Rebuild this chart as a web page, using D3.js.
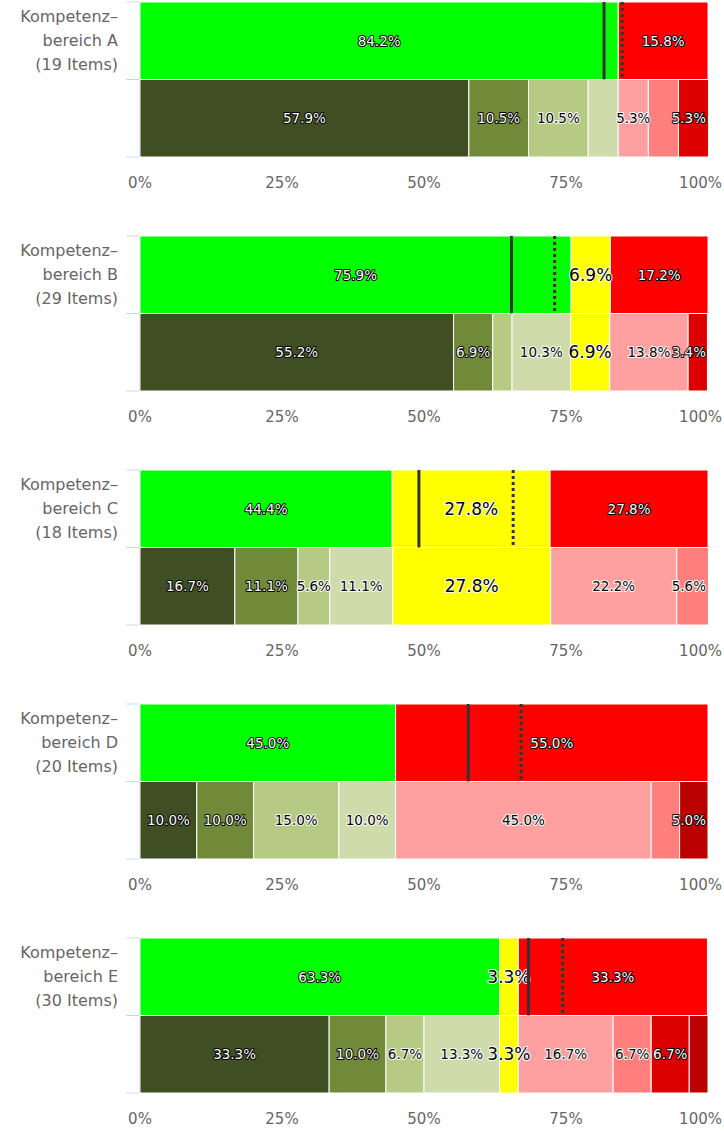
<!DOCTYPE html>
<html>
<head>
<meta charset="utf-8">
<script src="https://cdn.jsdelivr.net/npm/d3@7"></script>
<style>
  body { margin: 0; background: #fff; }
  svg { display: block; }
</style>
</head>
<body>
<div id="chart"></div>
<script>
// Kompetenzbereiche
const areas = ['A', 'B', 'C', 'D', 'E'];
const itemCounts = [19, 29, 18, 20, 30];

// Summary bar (upper bar): green / yellow / red share in %
const sumGreen  = [84.2, 75.9, 44.4, 45.0, 63.3];
const sumYellow = [0, 6.9, 27.8, 0, 3.3];
const sumRed    = [15.8, 17.2, 27.8, 55.0, 33.3];

// Detail bar (lower bar), nine levels from dark green to dark red
const lvl1 = [57.9, 55.2, 16.7, 10.0, 33.3];
const lvl2 = [10.5, 6.9, 11.1, 10.0, 10.0];
const lvl3 = [10.5, 3.4, 5.6, 15.0, 6.7];
const lvl4 = [5.3, 10.3, 11.1, 10.0, 13.3];
const lvl5 = [0, 6.9, 27.8, 0, 3.3];
const lvl6 = [5.3, 13.8, 22.2, 45.0, 16.7];
const lvl7 = [5.3, 0, 5.6, 5.0, 6.7];
const lvl8 = [5.3, 3.4, 0, 0, 6.7];
const lvl9 = [0, 0, 0, 5.0, 3.3];

// Reference lines on the summary bar (solid / dotted), in %
const solidMark  = [81.7, 65.4, 49.1, 57.8, 68.4];
const dottedMark = [84.9, 73.0, 65.7, 67.1, 74.4];

const xTicks = [0, 25, 50, 75, 100];

const SUM_COLORS = ['#00ff00', '#ffff00', '#ff0000'];
const DETAIL_COLORS = ['#404e23', '#718a3a', '#b5ca83', '#cfdbab', '#ffff00',
                       '#ffa0a0', '#ff7f7f', '#dd0000', '#bb0000'];
const YELLOW = '#ffff00';

const W = 724, H = 1131, PANEL_H = 234;

const svg = d3.select('#chart').append('svg')
    .attr('width', W)
    .attr('height', H)
    .style('font-family', '"DejaVu Sans", sans-serif');

const x = d3.scaleLinear().domain([0, 100]).range([140, 708]);
const y = d3.scaleBand().domain(['sum', 'detail']).range([2, 157]).padding(0);

function contrast(c) {
    const rgb = d3.rgb(c);
    return rgb.r + rgb.g + rgb.b > 1.8 * 255 ? '#000000' : '#ffffff';
}

function stackRow(values, colors) {
    let acc = 0;
    return values.map(function(v, i) {
        const seg = { v: v, x0: acc, x1: acc + v, color: colors[i] };
        acc += v;
        return seg;
    }).filter(function(s) { return s.v > 0; });
}

areas.forEach(function(area, i) {
    const g = svg.append('g').attr('transform', 'translate(0,' + (i * PANEL_H) + ')');

    const rows = [
        { key: 'sum', segs: stackRow([sumGreen[i], sumYellow[i], sumRed[i]], SUM_COLORS) },
        { key: 'detail', segs: stackRow([lvl1[i], lvl2[i], lvl3[i], lvl4[i], lvl5[i],
                                          lvl6[i], lvl7[i], lvl8[i], lvl9[i]], DETAIL_COLORS) }
    ];

    // category axis line + ticks
    g.append('line')
        .attr('x1', 139.5).attr('x2', 139.5)
        .attr('y1', y.range()[0]).attr('y2', y.range()[1])
        .attr('stroke', '#ccd6eb').attr('stroke-width', 1);
    [y.range()[0], y('detail'), y.range()[1]].forEach(function(ty) {
        g.append('line')
            .attr('x1', 126).attr('x2', 139.5)
            .attr('y1', ty).attr('y2', ty)
            .attr('stroke', '#ccd6eb').attr('stroke-width', 1);
    });

    // category label
    const cy = y('sum') + y.bandwidth() / 2;
    const lab = g.append('text')
        .attr('text-anchor', 'end')
        .attr('fill', '#666666')
        .style('font-size', '16px');
    ['Kompetenz\u2013', 'bereich ' + area, '(' + itemCounts[i] + ' Items)'].forEach(function(t, k) {
        lab.append('tspan').attr('x', 118).attr('y', cy - 19 + k * 24).text(t);
    });

    rows.forEach(function(row) {
        const by = y(row.key), bh = y.bandwidth();
        g.append('g').selectAll('rect').data(row.segs).join('rect')
            .attr('x', function(d) { return x(d.x0); })
            .attr('y', by)
            .attr('width', function(d) { return x(d.x1) - x(d.x0); })
            .attr('height', bh)
            .attr('fill', function(d) { return d.color; })
            .attr('stroke', '#ffffff')
            .attr('stroke-width', 1);

        const labels = g.append('g').selectAll('text').data(row.segs).join('text')
            .attr('x', function(d) { return (x(d.x0) + x(d.x1)) / 2; })
            .attr('y', by + bh / 2)
            .attr('dy', '0.36em')
            .attr('text-anchor', 'middle')
            .style('font-size', function(d) { return d.color === YELLOW ? '17px' : '13.5px'; })
            .attr('fill', function(d) { return contrast(d.color); })
            .attr('stroke', function(d) { return contrast(d.color) === '#000000' ? '#ffffff' : '#000000'; })
            .attr('stroke-width', 2)
            .attr('stroke-linejoin', 'round')
            .style('paint-order', 'stroke')
            .text(function(d) { return d.v.toFixed(1) + '%'; });

        // keep labels inside the plot, then hide overlapping ones
        // (bigger segments win, ties go to the right)
        const boxes = [];
        labels.each(function(d) {
            const w = this.getComputedTextLength();
            let cx = (x(d.x0) + x(d.x1)) / 2;
            if (cx + w / 2 > x.range()[1] - 2) cx = x.range()[1] - 2 - w / 2;
            d3.select(this).attr('x', cx);
            boxes.push({ node: this, l: cx - w / 2, r: cx + w / 2, rank: d.v, pos: d.x0 });
        });
        boxes.sort(function(a, b) { return (b.rank - a.rank) || (b.pos - a.pos); });
        const kept = [];
        boxes.forEach(function(b) {
            const hit = kept.some(function(k) { return b.l < k.r && b.r > k.l; });
            if (hit) d3.select(b.node).remove();
            else kept.push(b);
        });
    });

    // reference lines on the summary bar
    const y0 = y('sum'), y1 = y('sum') + y.bandwidth();
    g.append('line')
        .attr('x1', x(solidMark[i])).attr('x2', x(solidMark[i]))
        .attr('y1', y0).attr('y2', y1)
        .attr('stroke', '#333333').attr('stroke-width', 3);
    g.append('line')
        .attr('x1', x(dottedMark[i])).attr('x2', x(dottedMark[i]))
        .attr('y1', y0).attr('y2', y1)
        .attr('stroke', '#333333').attr('stroke-width', 3)
        .attr('stroke-dasharray', '3,3');

    // value axis labels (last one kept inside the page)
    g.append('g').selectAll('text').data(xTicks).join('text')
        .attr('x', function(d) { return d === 100 ? W - 2 : x(d); })
        .attr('y', 188)
        .attr('text-anchor', function(d) { return d === 100 ? 'end' : 'middle'; })
        .attr('fill', '#666666')
        .style('font-size', '15px')
        .text(function(d) { return d + '%'; });
});
</script>
</body>
</html>
